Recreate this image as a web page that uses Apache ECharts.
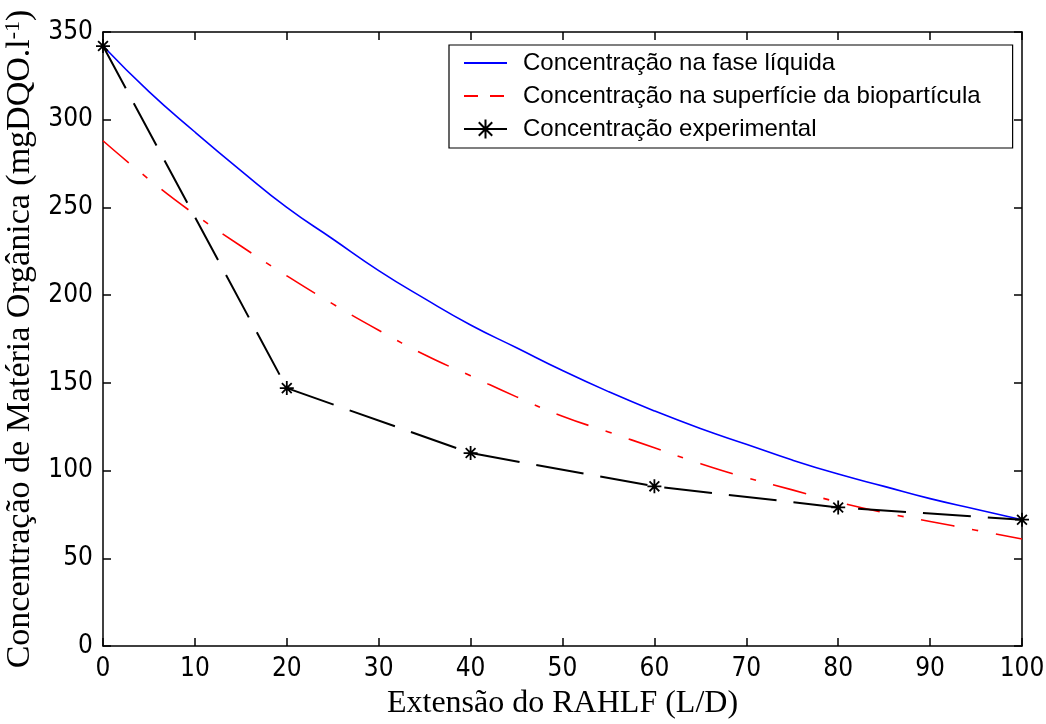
<!DOCTYPE html>
<html>
<head>
<meta charset="utf-8">
<script src="https://cdn.jsdelivr.net/npm/echarts@6/dist/echarts.min.js"></script>
<style>
  html, body { margin: 0; padding: 0; background: #fff; }
  #chart { width: 1046px; height: 724px; }
</style>
</head>
<body>
<div id="chart"></div>
<script>
// dados
const extensao = [0, 5, 10, 15, 20, 25, 30, 35, 40, 45, 50, 55, 60, 65, 70, 75, 80, 85, 90, 95, 100];
const faseLiquida = [342, 316, 293, 271, 250, 232, 214, 198, 183, 170, 157, 145, 134, 124, 115, 106, 98, 91, 84, 78, 72];
const superficie = [288, 266, 246, 228, 211, 195, 180, 166, 154, 142, 131, 122, 113, 104, 96, 89, 82, 76, 71, 66, 61];
const extExp = [0, 20, 40, 60, 80, 100];
const experimental = [342, 147, 110, 91, 79, 72];

const nomes = [
  "Concentração na fase líquida",
  "Concentração na superfície da biopartícula",
  "Concentração experimental"
];

// asterisco estilo matlab
const asterisco = "path://M0,-10L0,10M-10,0L10,0M-7,-7L7,7M-7,7L7,-7";

let myChart = echarts.init(document.getElementById("chart"));

const tickFont = { fontFamily: "Liberation Sans Narrow, DejaVu Sans Condensed, sans-serif", fontSize: 26, color: "#000" };
const eixo = { onZero: false, lineStyle: { color: "#000", width: 1.5 } };
const tick = { inside: true, length: 8, lineStyle: { color: "#000", width: 1.5 } };

myChart.setOption({
  animation: false,
  backgroundColor: "#fff",
  grid: { left: 103, right: 24, top: 32, bottom: 78, outerBoundsMode: "none", containLabel: false },
  legend: {
    orient: "vertical",
    left: 449,
    top: 45,
    padding: [6, 32, 7, 14],
    itemGap: 9,
    itemWidth: 43,
    itemHeight: 24,
    borderColor: "#000",
    borderWidth: 1.2,
    backgroundColor: "#fff",
    textStyle: { fontFamily: "Liberation Sans", fontSize: 24, color: "#000", padding: [0, 0, 0, 11] },
    data: [
      { name: nomes[0], itemStyle: { opacity: 0 } },
      { name: nomes[1], itemStyle: { opacity: 0 }, lineStyle: { type: [14, 12] } },
      { name: nomes[2], lineStyle: { type: "solid" } }
    ]
  },
  xAxis: [
    {
      type: "value",
      min: 0, max: 100, interval: 10,
      name: "Extensão do RAHLF (L/D)",
      nameLocation: "middle",
      nameGap: 42,
      nameTextStyle: { fontFamily: "Liberation Serif", fontSize: 32, color: "#000" },
      axisLine: eixo,
      axisTick: tick,
      axisLabel: Object.assign({ margin: 10 }, tickFont),
      splitLine: { show: false }
    },
    {
      type: "value",
      position: "top",
      min: 0, max: 100, interval: 10,
      axisLine: eixo,
      axisTick: tick,
      axisLabel: { show: false },
      splitLine: { show: false }
    }
  ],
  yAxis: [
    {
      type: "value",
      min: 0, max: 350, interval: 50,
      name: "Concentração de Matéria Orgânica (mgDQO.l{sup|-1})",
      nameLocation: "middle",
      nameGap: 56,
      nameTextStyle: {
        fontFamily: "Liberation Serif", fontSize: 34, color: "#000",
        rich: { sup: { fontFamily: "Liberation Serif", fontSize: 22, verticalAlign: "top", padding: [0, 0, 14, 0] } }
      },
      axisLine: eixo,
      axisTick: tick,
      axisLabel: Object.assign({ margin: 10 }, tickFont),
      splitLine: { show: false }
    },
    {
      type: "value",
      position: "right",
      min: 0, max: 350, interval: 50,
      axisLine: eixo,
      axisTick: tick,
      axisLabel: { show: false },
      splitLine: { show: false }
    }
  ],
  series: [
    {
      name: nomes[0],
      type: "line",
      smooth: true,
      showSymbol: false,
      symbol: "none",
      data: extensao.map((x, i) => [x, faseLiquida[i]]),
      lineStyle: { color: "#0000ff", width: 1.6 },
      itemStyle: { color: "#0000ff" }
    },
    {
      name: nomes[1],
      type: "line",
      smooth: true,
      showSymbol: false,
      symbol: "none",
      data: extensao.map((x, i) => [x, superficie[i]]),
      lineStyle: { color: "#ff0000", width: 1.6, type: [34, 18, 6, 18] },
      itemStyle: { color: "#ff0000" }
    },
    {
      name: nomes[2],
      type: "line",
      data: extExp.map((x, i) => [x, experimental[i]]),
      symbol: asterisco,
      symbolSize: 14,
      lineStyle: { color: "#000", width: 2, type: [48, 17] },
      itemStyle: { color: "#000", borderColor: "#000", borderWidth: 1.8 },
      z: 3
    }
  ]
});
</script>
</body>
</html>
